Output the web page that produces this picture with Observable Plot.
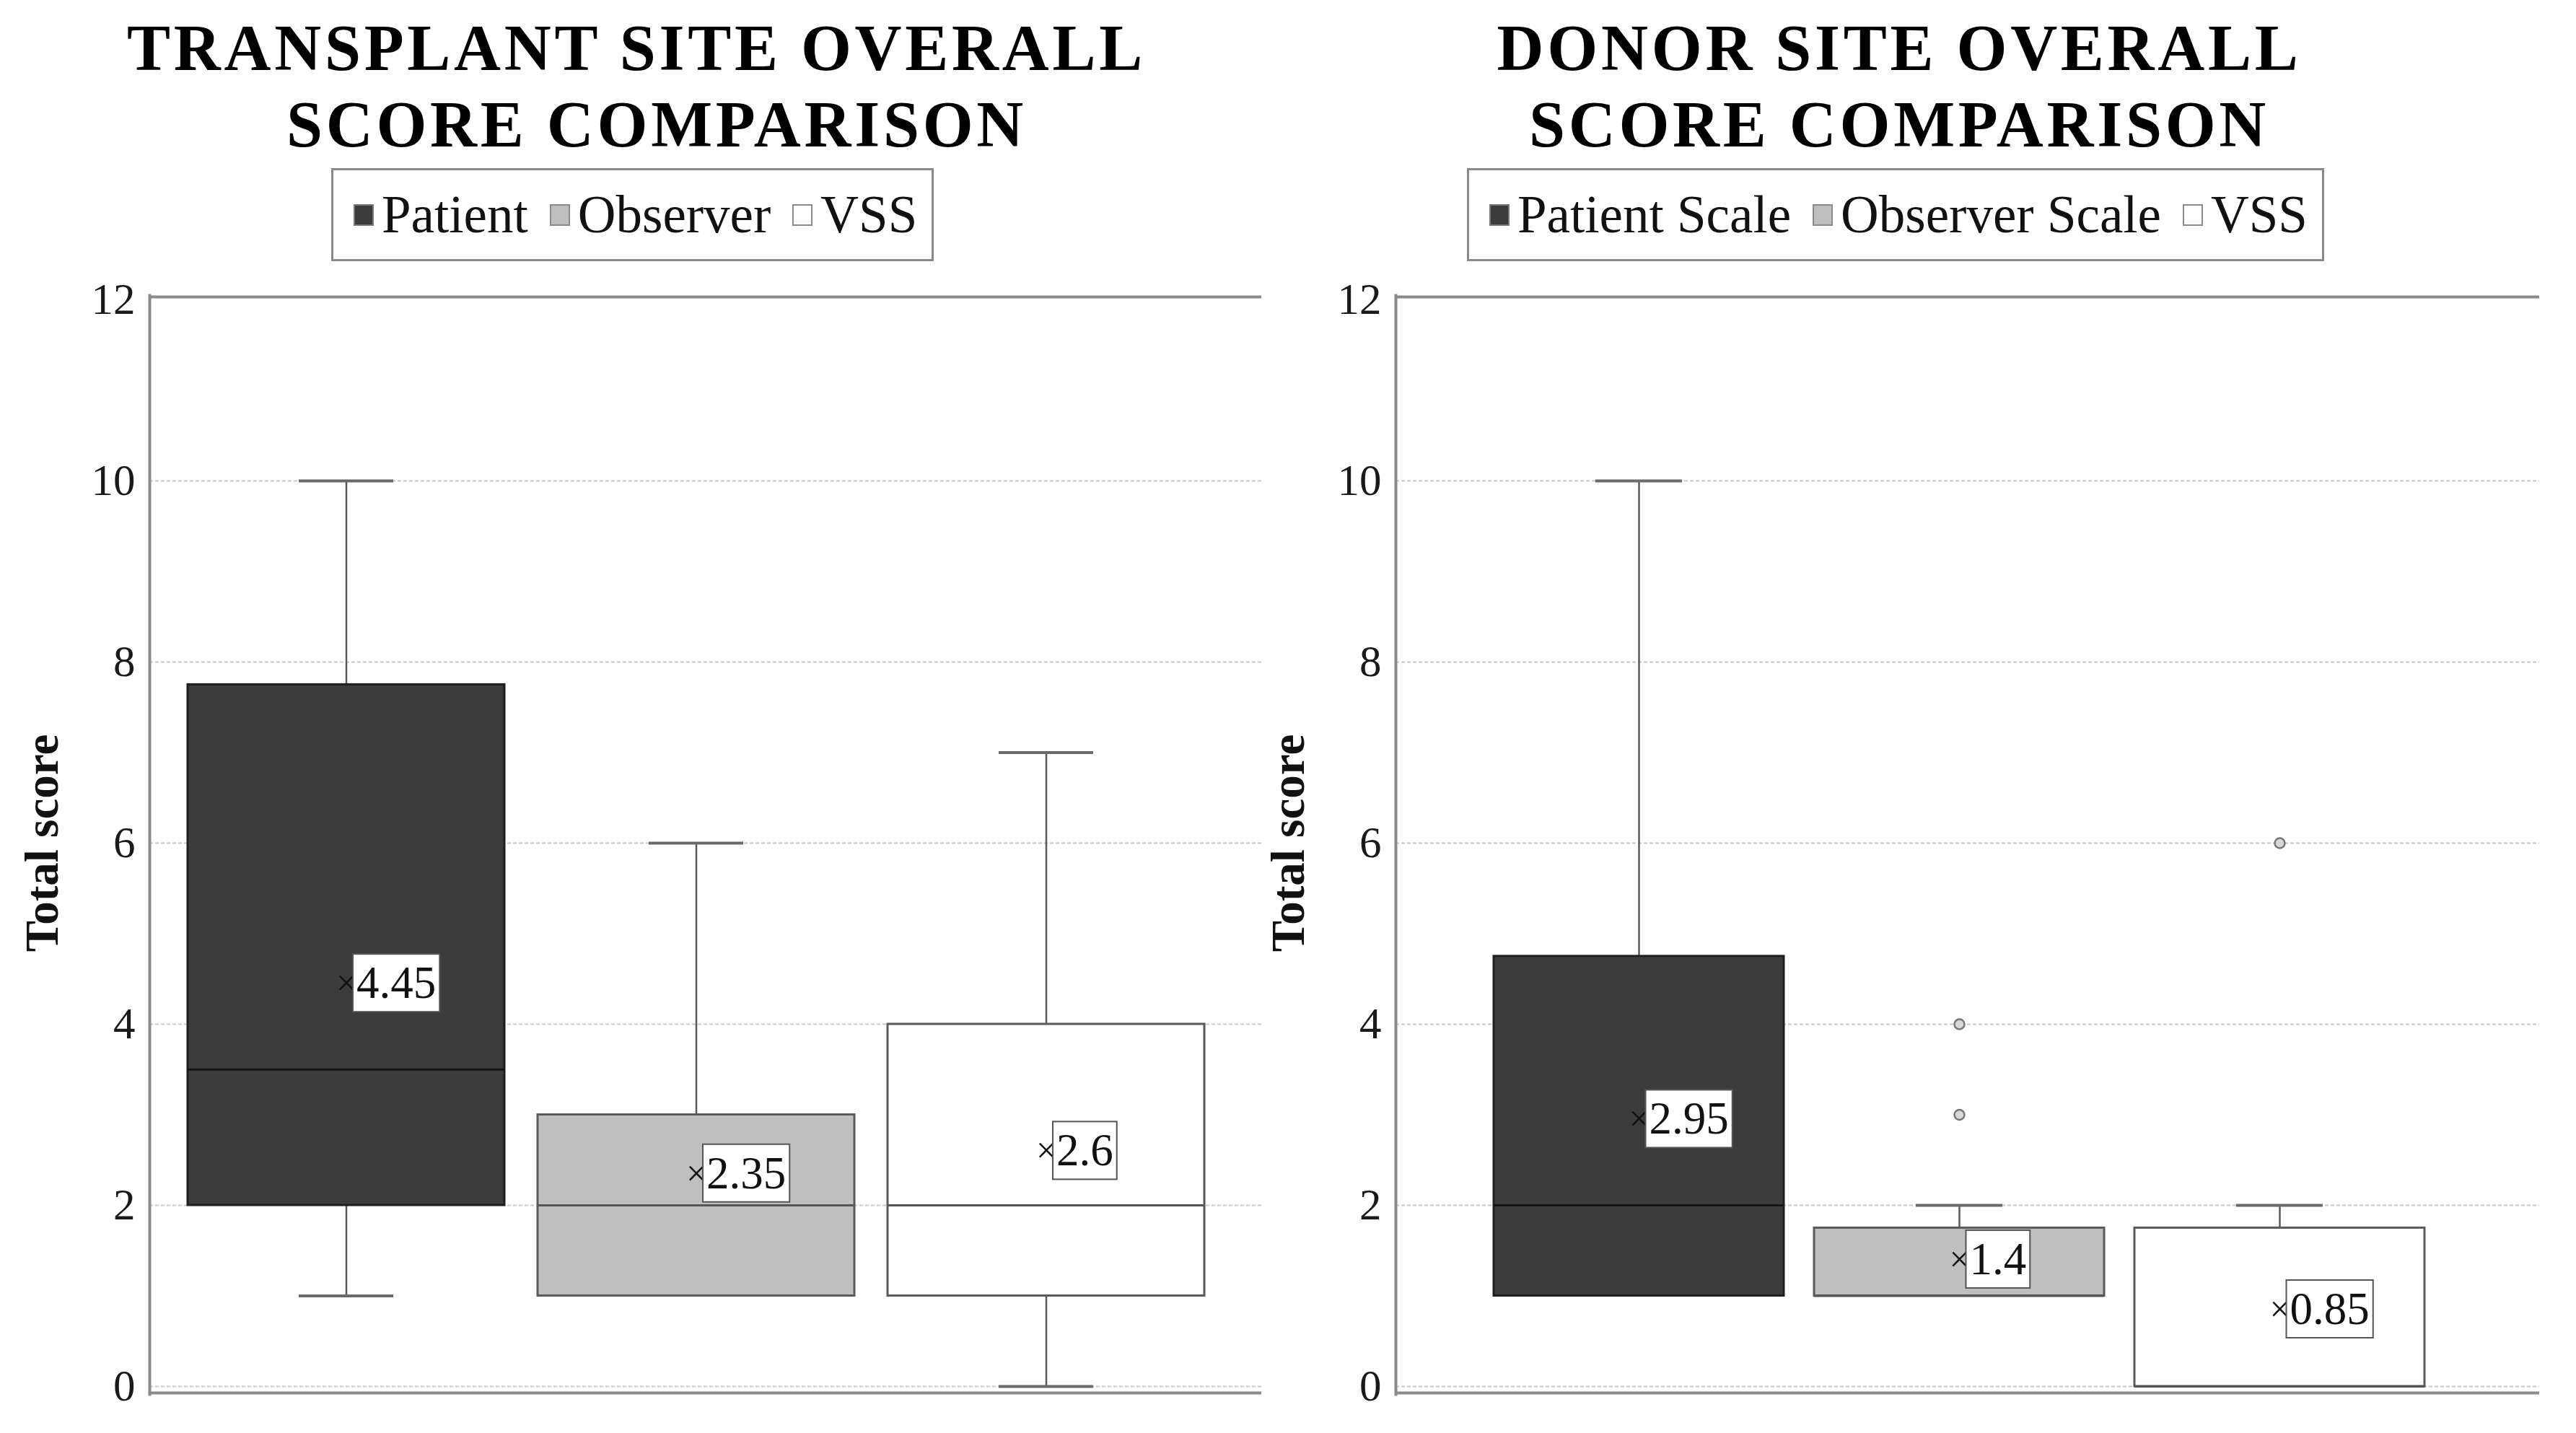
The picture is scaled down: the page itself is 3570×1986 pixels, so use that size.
<!DOCTYPE html>
<html><head><meta charset="utf-8">
<script src="https://cdn.jsdelivr.net/npm/d3@7"></script>
<script src="https://cdn.jsdelivr.net/npm/@observablehq/plot@0.6"></script>
<style>
html,body{margin:0;padding:0;background:#fff;}
#root{position:relative;width:3570px;height:1986px;overflow:hidden;font-family:"Liberation Serif","Times New Roman",serif;color:#111;}
.title{position:absolute;width:1800px;text-align:center;font-weight:bold;font-size:90px;line-height:106px;letter-spacing:4.7px;top:14px;color:#000;}
.legend{position:absolute;top:233px;height:129px;box-sizing:border-box;border:3px solid #8a8a8a;display:flex;align-items:center;padding:0 20px 0 28px;font-size:73px;color:#111;white-space:nowrap;}
.item{display:flex;align-items:center;margin-right:30px}
.item:last-child{margin-right:0}
.sw{width:28px;height:30px;box-sizing:border-box;margin-right:11px;border:2px solid #808080;}
.panel{position:absolute;top:380px;}
</style></head>
<body><div id="root"></div>
<script>
// ---------- data ----------
const transplantCats = ["Patient", "Observer", "VSS"];
const transplantMin = [1, 1, 0];
const transplantQ1 = [2, 1, 1];
const transplantMedian = [3.5, 2, 2];
const transplantQ3 = [7.75, 3, 4];
const transplantMax = [10, 6, 7];
const transplantMean = [4.45, 2.35, 2.6];
const transplantOutlierCats = [];
const transplantOutlierVals = [];

const donorCats = ["Patient Scale", "Observer Scale", "VSS"];
const donorMin = [1, 1, 0];
const donorQ1 = [1, 1, 0];
const donorMedian = [2, 1, 0];
const donorQ3 = [4.75, 1.75, 1.75];
const donorMax = [10, 2, 2];
const donorMean = [2.95, 1.4, 0.85];
const donorOutlierCats = ["Observer Scale", "Observer Scale", "VSS"];
const donorOutlierVals = [4, 3, 6];

const yTicks = [0, 2, 4, 6, 8, 10, 12];
const transplantTitle = ["TRANSPLANT SITE OVERALL", "SCORE COMPARISON"];
const donorTitle = ["DONOR SITE OVERALL", "SCORE COMPARISON"];
const yLabel = "Total score";

// ---------- styles ----------
const boxFills = ["#3c3c3c", "#bfbfbf", "#ffffff"];
const boxStrokes = ["#1e1e1e", "#5a5a5a", "#5a5a5a"];
const medianStrokes = ["#151515", "#555555", "#555555"];
const swatchBorders = ["#777777", "#8a8a8a", "#8a8a8a"];
const frameColor = "#8a8a8a";
const whiskerColor = "#5a5a5a";

const root = document.getElementById("root");

function addTitle(lines, center, shifts) {
  const d = document.createElement("div");
  d.className = "title";
  d.style.left = (center - 900) + "px";
  d.innerHTML = lines.map((l, i) => `<div style="position:relative;left:${shifts[i]}px">${l}</div>`).join("");
  root.appendChild(d);
}
function addLegend(cats, left) {
  const d = document.createElement("div");
  d.className = "legend";
  d.style.left = left + "px";
  cats.forEach((c, i) => {
    const it = document.createElement("div");
    it.className = "item";
    const sw = document.createElement("div");
    sw.className = "sw";
    sw.style.background = boxFills[i];
    sw.style.borderColor = swatchBorders[i];
    const tx = document.createElement("span");
    tx.textContent = c;
    it.appendChild(sw); it.appendChild(tx);
    d.appendChild(it);
  });
  root.appendChild(d);
}

function makePanel(cfg) {
  const rows = cfg.cats.map((c, i) => ({cat: c, min: cfg.min[i], q1: cfg.q1[i], median: cfg.median[i],
    q3: cfg.q3[i], max: cfg.max[i], mean: cfg.mean[i]}));
  const outliers = cfg.outCats.map((c, i) => ({cat: c, value: cfg.outVals[i]}));
  const upper = rows.filter(r => r.max > r.q3);
  const lower = rows.filter(r => r.min < r.q1);
  const plot = Plot.plot({
    width: cfg.width, height: 1606,
    marginLeft: cfg.marginLeft, marginRight: cfg.marginRight, marginTop: 35, marginBottom: 65,
    style: {fontFamily: "Liberation Serif, Times New Roman, serif", fontSize: "61px", color: "#1a1a1a", background: "transparent", overflow: "visible"},
    x: {type: "band", domain: cfg.cats, axis: null, paddingInner: 0.095, paddingOuter: cfg.paddingOuter, align: cfg.align},
    y: {domain: [0, 12], ticks: yTicks, tickSize: 0, tickPadding: 20, label: null},
    marks: [
      Plot.ruleY(yTicks.filter(t => t < 12), {y: d => d, stroke: "#c8c8c8", strokeWidth: 2, strokeDasharray: "5,3"}),
      Plot.ruleX(upper, {x: "cat", y1: "q3", y2: "max", stroke: whiskerColor, strokeWidth: 2.5}),
      Plot.ruleX(lower, {x: "cat", y1: "min", y2: "q1", stroke: whiskerColor, strokeWidth: 2.5}),
      Plot.tickY(upper, {x: "cat", y: "max", insetLeft: cfg.capInset, insetRight: cfg.capInset, stroke: "#6a6a6a", strokeWidth: 4}),
      Plot.tickY(lower, {x: "cat", y: "min", insetLeft: cfg.capInset, insetRight: cfg.capInset, stroke: "#6a6a6a", strokeWidth: 4}),
      ...rows.map((r, i) => Plot.barY([r], {x: "cat", y1: "q1", y2: "q3", fill: boxFills[i], stroke: boxStrokes[i], strokeWidth: 3})),
      ...rows.map((r, i) => Plot.tickY([r], {x: "cat", y: "median", stroke: medianStrokes[i], strokeWidth: 3})),
      Plot.dot(outliers, {x: "cat", y: "value", r: 7, fill: "#d8d8d8", stroke: "#777", strokeWidth: 2.5}),
      Plot.ruleY([12], {stroke: frameColor, strokeWidth: 4, dy: -4}),
      Plot.ruleY([0], {stroke: frameColor, strokeWidth: 4, dy: 9}),
      Plot.frame({anchor: "left", stroke: frameColor, strokeWidth: 4, insetTop: -6, insetBottom: -11}),
      Plot.text(rows, {x: "cat", y: "mean", text: () => "×", fontSize: 50, fill: "#111"}),
      Plot.text(rows, {x: "cat", y: "mean", text: d => String(d.mean), textAnchor: "start", dx: 14, fontSize: 63, fill: "#111"}),
      Plot.text([yLabel], {text: d => d, frameAnchor: "left", textAnchor: "middle", dx: -148, rotate: -90, fontSize: 65, fontWeight: "bold", fill: "#111"})
    ]
  });
  const wrap = document.createElement("div");
  wrap.className = "panel";
  wrap.style.left = cfg.left + "px";
  wrap.appendChild(plot);
  root.appendChild(wrap);
  // white boxes behind the mean labels, sized from the rendered text
  plot.querySelectorAll('g[text-anchor="start"] text').forEach(t => {
    const b = t.getBBox();
    const r = document.createElementNS("http://www.w3.org/2000/svg", "rect");
    r.setAttribute("x", b.x - 5);
    r.setAttribute("y", b.y - 5);
    r.setAttribute("width", b.width + 10);
    r.setAttribute("height", b.height + 10);
    r.setAttribute("fill", "#fff");
    r.setAttribute("stroke", "#555");
    r.setAttribute("stroke-width", 2);
    const tr = t.getAttribute("transform");
    if (tr) r.setAttribute("transform", tr);
    t.parentNode.insertBefore(r, t);
  });
}

addTitle(transplantTitle, 882, [0, 28]);
addTitle(donorTitle, 2632, [0, 0]);
addLegend(transplantCats, 459);
addLegend(donorCats, 2033);

makePanel({cats: transplantCats, min: transplantMin, q1: transplantQ1, median: transplantMedian, q3: transplantQ3,
  max: transplantMax, mean: transplantMean, outCats: transplantOutlierCats, outVals: transplantOutlierVals,
  left: 0, width: 1785, marginLeft: 207, marginRight: 37, paddingOuter: 0.136, align: 0.4, capInset: 154});
makePanel({cats: donorCats, min: donorMin, q1: donorQ1, median: donorMedian, q3: donorQ3,
  max: donorMax, mean: donorMean, outCats: donorOutlierCats, outVals: donorOutlierVals,
  left: 1700, width: 1870, marginLeft: 234, marginRight: 51, paddingOuter: 0.33, align: 0.46, capInset: 141});
</script>
</body></html>
